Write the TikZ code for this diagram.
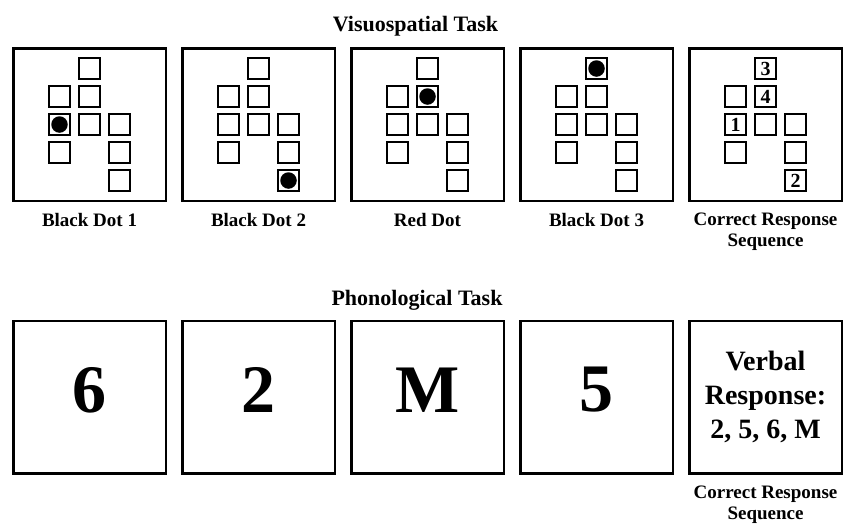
\documentclass[tikz,border=0pt]{standalone}
\usepackage{fontspec}
\setmainfont{Liberation Serif}
\usetikzlibrary{positioning, calc}

\begin{document}
\begin{tikzpicture}[
		x=1pt, y=-1pt,
		panel/.style={draw, line width=2.5pt, minimum size=152.5pt, inner sep=0pt},
		cell/.style={draw, line width=2pt, minimum size=21.5pt, inner sep=0pt},
		dot/.style={circle, fill=black, minimum size=16.5pt, inner sep=0pt},
		num/.style={font=\fontsize{20}{20}\selectfont\bfseries, inner sep=0pt},
		heading/.style={font=\fontsize{22}{24}\selectfont\bfseries, inner sep=0pt},
		caption/.style={font=\fontsize{19}{21}\selectfont\bfseries, align=center, inner sep=0pt},
		bigsym/.style={font=\fontsize{68}{68}\selectfont\bfseries, inner sep=0pt},
		verbal/.style={font=\fontsize{28}{34}\selectfont\bfseries, align=center, inner sep=0pt}
		]
		
		\useasboundingbox (0,0) rectangle (859,523);
		
		% =========================================================
		% 1. Visuospatial Task (top row)
		% =========================================================
		\node[heading, anchor=base] (VisTitle) at (415.5, 31) {Visuospatial Task};
		
		\node[panel] (V1) at (89.5, 124.5) {};
		\node[panel, right=14pt of V1] (V2) {};
		\node[panel, right=14pt of V2] (V3) {};
		\node[panel, right=14pt of V3] (V4) {};
		\node[panel, right=14pt of V4] (V5) {};
		
		% Same grid of squares in every panel
		\foreach \p in {1,...,5} {
			\foreach \c/\r in {2/1, 1/2, 2/2, 1/3, 2/3, 3/3, 1/4, 3/4, 3/5} {
				\node[cell] (V\p-\c-\r) at ($(V\p)+({30*(\c-2)},{28*(\r-3)})$) {};
			}
		}
		
		% Dots
		\node[dot] (Dot1) at (V1-1-3) {};
		\node[dot] (Dot2) at (V2-3-5) {};
		\node[dot] (RedDot) at (V3-2-2) {};
		\node[dot] (Dot3) at (V4-2-1) {};
		
		% Response order
		\node[num] (Num1) at (V5-1-3) {1};
		\node[num] (Num2) at (V5-3-5) {2};
		\node[num] (Num3) at (V5-2-1) {3};
		\node[num] (Num4) at (V5-2-2) {4};
		
		% Captions
		\node[caption, below=11pt of V1] (CapV1) {Black Dot 1};
		\node[caption, below=11pt of V2] (CapV2) {Black Dot 2};
		\node[caption, below=11pt of V3] (CapV3) {Red Dot};
		\node[caption, below=11pt of V4] (CapV4) {Black Dot 3};
		\node[caption, below=11pt of V5] (CapV5) {Correct Response\\Sequence};
		
		% =========================================================
		% 2. Phonological Task (bottom row)
		% =========================================================
		\node[heading, anchor=base] (PhonTitle) at (417, 305) {Phonological Task};
		
		\node[panel] (B1) at (89.5, 397) {};
		\node[panel, right=14pt of B1] (B2) {};
		\node[panel, right=14pt of B2] (B3) {};
		\node[panel, right=14pt of B3] (B4) {};
		\node[panel, right=14pt of B4] (B5) {};
		
		\node[bigsym] (Sym1) at ($(B1)+(0,-7)$) {6};
		\node[bigsym] (Sym2) at ($(B2)+(0,-7)$) {2};
		\node[bigsym] (Sym3) at ($(B3)+(0,-7)$) {M};
		\node[bigsym] (Sym4) at ($(B4)+(0,-7)$) {5};
		\node[verbal] (Resp) at (B5) {Verbal\\Response:\\2, 5, 6, M};
		
		\node[caption, below=11pt of B5] (CapB5) {Correct Response\\Sequence};
	\end{tikzpicture}
\end{document}
